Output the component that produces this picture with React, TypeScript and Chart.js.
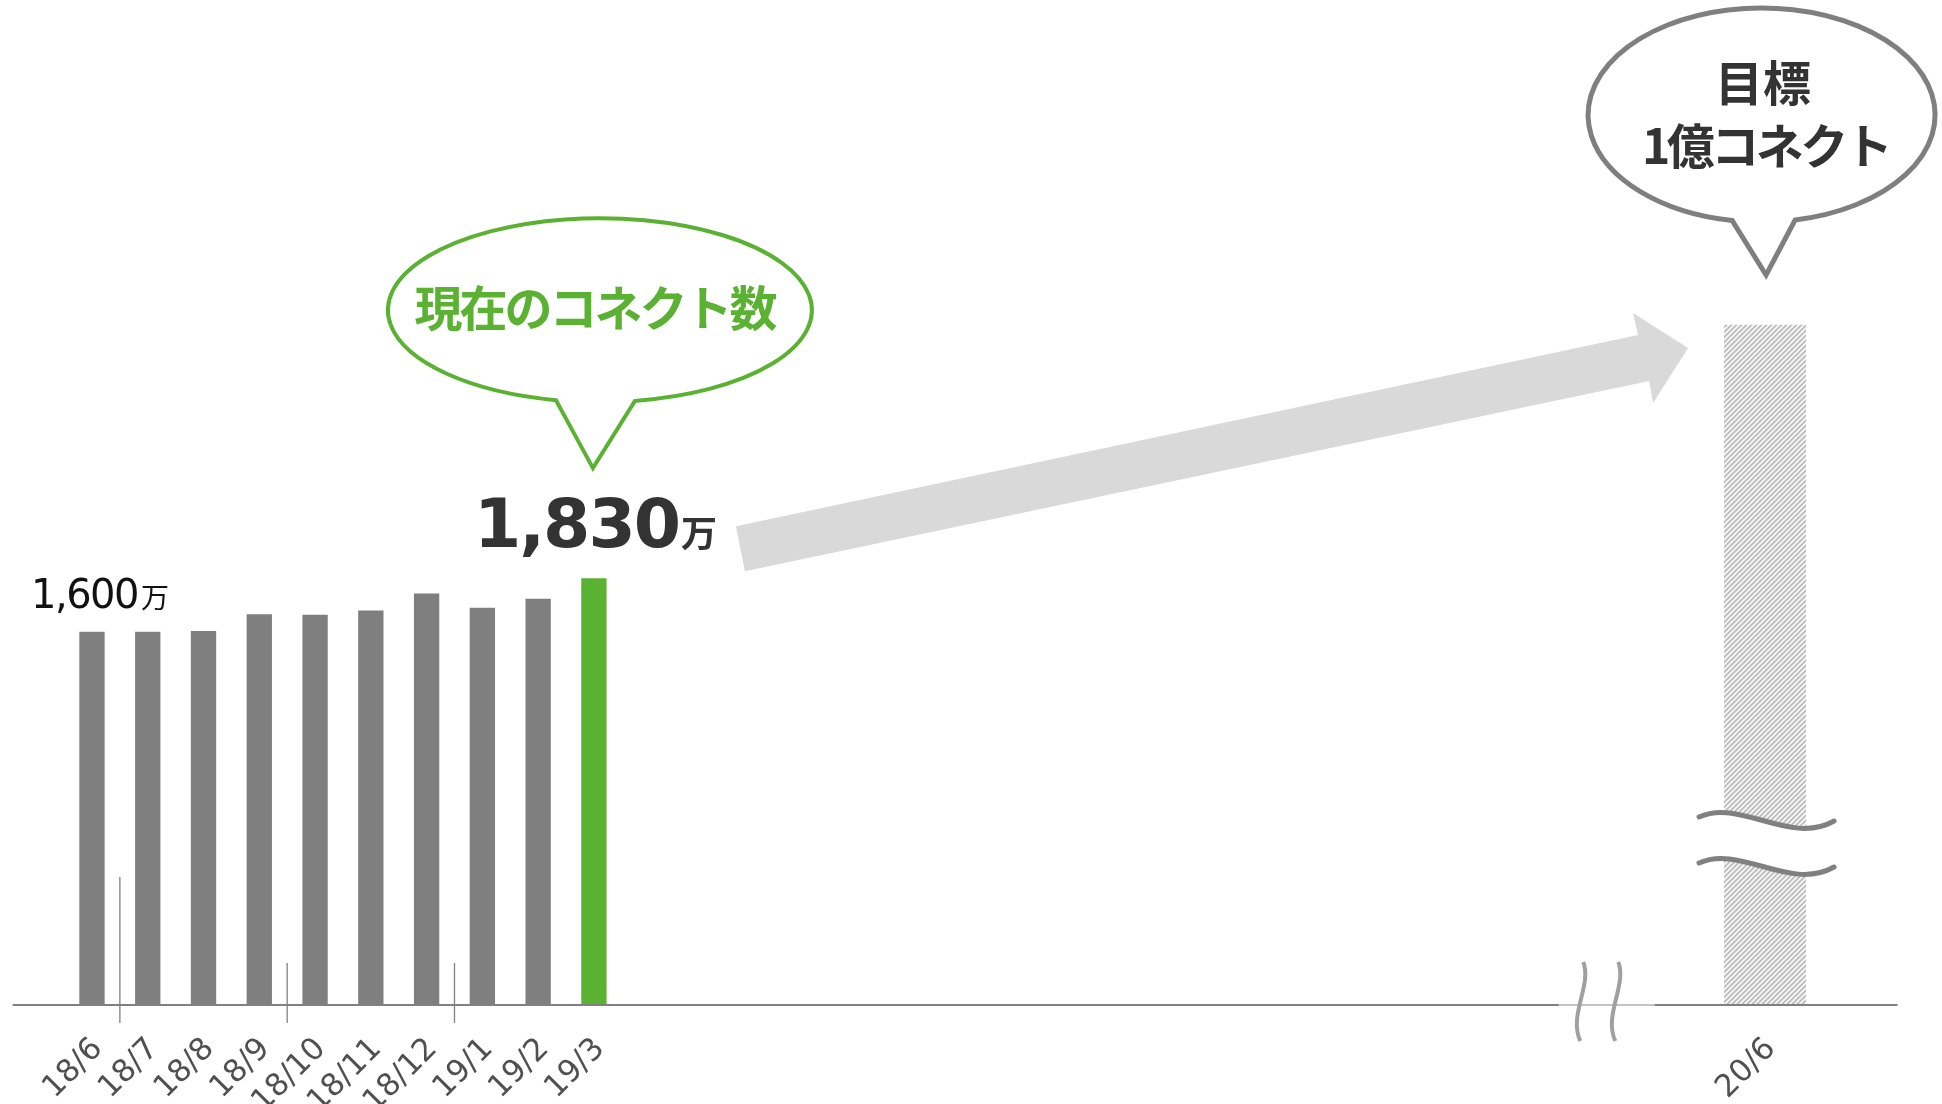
import React, { useEffect, useRef } from 'react';
import { Chart, registerables } from 'chart.js';

Chart.register(...registerables);

// ---- data ----
const months = ['18/6', '18/7', '18/8', '18/9', '18/10', '18/11', '18/12', '19/1', '19/2', '19/3'];
const connects = [1600, 1600, 1603, 1675, 1673, 1691, 1764, 1703, 1742, 1830]; // 万
const breakSlots = 20; // empty slots hidden behind the axis break
const targetMonth = '20/6';
const targetValue = 10000; // 1億 = 10000万
const tailSlots = 2;
const firstValueText = '1,600';
const currentValueText = '1,830';
const unitText = '万';
const currentCaption = '現在のコネクト数';
const targetCaption = ['目標', '1億コネクト'];
const quarterBreaks = [0, 3, 6]; // separator after these indexes

// ---- styles ----
const GRAY = '#7F7F7F';
const GREEN = '#5BB131';
const TEXT_DARK = '#333333';
const LATIN = 'DejaVu Sans';
const CJK = '"Noto Sans CJK JP"';

const labels = [
  ...months,
  ...Array(breakSlots).fill(''),
  targetMonth,
  ...Array(tailSlots).fill(''),
];
const targetIndex = months.length + breakSlots;
const monthlyData = labels.map((_, i) => (i < connects.length ? connects[i] : null));
const targetData = labels.map((_, i) => (i === targetIndex ? targetValue : null));

function makeHatch(): CanvasPattern | string {
  const c = document.createElement('canvas');
  c.width = 5;
  c.height = 5;
  const g = c.getContext('2d');
  if (!g) return '#D0D0D0';
  const img = g.createImageData(5, 5);
  const shades = [184, 196, 232, 250, 226];
  for (let y = 0; y < 5; y++) {
    for (let x = 0; x < 5; x++) {
      const k = (((x + y) % 5) + 5) % 5;
      const v = shades[k];
      const p = (y * 5 + x) * 4;
      img.data[p] = v;
      img.data[p + 1] = v;
      img.data[p + 2] = v;
      img.data[p + 3] = 255;
    }
  }
  g.putImageData(img, 0, 0);
  const pat = g.createPattern(c, 'repeat');
  return pat || '#D0D0D0';
}

function bubblePath(
  ctx: CanvasRenderingContext2D,
  cx: number, cy: number, rx: number, ry: number,
  dxL: number, dxR: number, tipX: number, tipY: number
) {
  const tL = Math.acos(dxL / rx);
  const tR = Math.acos(dxR / rx);
  ctx.beginPath();
  ctx.ellipse(cx, cy, rx, ry, 0, tR, tL, true);
  ctx.lineTo(tipX, tipY);
  ctx.closePath();
}

const decorPlugin = {
  id: 'decor',
  beforeDatasetsDraw(chart: any) {
    const ctx: CanvasRenderingContext2D = chart.ctx;
    const bars = chart.getDatasetMeta(0).data;
    const a = bars[connects.length - 1];
    const t = chart.getDatasetMeta(1).data[targetIndex];
    if (!a || !t) return;
    // big gray arrow from current value to target
    ctx.save();
    ctx.fillStyle = '#D9D9D9';
    ctx.beginPath();
    ctx.moveTo(a.x + 142, a.y - 52);
    ctx.lineTo(t.x - 127, t.y + 10.5);
    ctx.lineTo(t.x - 132, t.y - 11.5);
    ctx.lineTo(t.x - 77, t.y + 23.5);
    ctx.lineTo(t.x - 112, t.y + 78.5);
    ctx.lineTo(t.x - 116, t.y + 56.5);
    ctx.lineTo(a.x + 151, a.y - 7);
    ctx.closePath();
    ctx.fill();
    ctx.restore();
  },
  afterDatasetsDraw(chart: any) {
    const ctx: CanvasRenderingContext2D = chart.ctx;
    const area = chart.chartArea;
    const xs = chart.scales.x;
    const base = chart.scales.y.getPixelForValue(0);
    const bars = chart.getDatasetMeta(0).data;
    const b0 = bars[0];
    const a = bars[connects.length - 1];
    const t = chart.getDatasetMeta(1).data[targetIndex];
    if (!b0 || !a || !t) return;
    ctx.save();

    // baseline (x axis line)
    const xb = xs.getPixelForValue(targetIndex - 3);
    ctx.strokeStyle = '#808080';
    ctx.lineWidth = 2;
    ctx.beginPath();
    ctx.moveTo(area.left - 51.5, base + 1);
    ctx.lineTo(area.right - 7, base + 1);
    ctx.stroke();
    ctx.strokeStyle = '#C4C4C4';
    ctx.beginPath();
    ctx.moveTo(xb - 39, base + 1);
    ctx.lineTo(xb + 57, base + 1);
    ctx.stroke();

    // quarter separators
    ctx.strokeStyle = '#808080';
    ctx.lineWidth = 1.3;
    quarterBreaks.forEach((i, k) => {
      const x = (xs.getPixelForValue(i) + xs.getPixelForValue(i + 1)) / 2;
      ctx.beginPath();
      ctx.moveTo(x, base - (k === 0 ? 127 : 41));
      ctx.lineTo(x, base + 19);
      ctx.stroke();
    });

    // axis break marks
    ctx.strokeStyle = '#A0A0A0';
    ctx.lineWidth = 4;
    ctx.lineCap = 'butt';
    [0, 35].forEach((off) => {
      ctx.beginPath();
      ctx.moveTo(xb - 14.5 + off, base - 42);
      ctx.bezierCurveTo(xb - 5.5 + off, base - 19, xb - 29.5 + off, base + 11, xb - 17.5 + off, base + 37);
      ctx.stroke();
    });

    // target bar break (white gap between two waves)
    const wave = (dy: number, reverse: boolean) => {
      const p0 = [t.x - 66, base - 187 + dy];
      const c1 = [t.x - 25, base - 206 + dy];
      const c2 = [t.x + 25, base - 158 + dy];
      const p1 = [t.x + 69, base - 183 + dy];
      if (!reverse) {
        ctx.bezierCurveTo(c1[0], c1[1], c2[0], c2[1], p1[0], p1[1]);
      } else {
        ctx.bezierCurveTo(c2[0], c2[1], c1[0], c1[1], p0[0], p0[1]);
      }
    };
    ctx.fillStyle = '#FFFFFF';
    ctx.beginPath();
    ctx.moveTo(t.x - 66, base - 187);
    wave(0, false);
    ctx.lineTo(t.x + 69, base - 183 + 46);
    wave(46, true);
    ctx.closePath();
    ctx.fill();
    ctx.strokeStyle = '#808080';
    ctx.lineWidth = 5;
    ctx.lineCap = 'round';
    [0, 46].forEach((dy) => {
      ctx.beginPath();
      ctx.moveTo(t.x - 66, base - 187 + dy);
      wave(dy, false);
      ctx.stroke();
    });

    // 1,600万 label
    ctx.fillStyle = '#111111';
    ctx.textAlign = 'left';
    ctx.textBaseline = 'alphabetic';
    ctx.font = `40px ${LATIN}`;
    (ctx as any).letterSpacing = '-1.5px';
    const lx = b0.x - 61;
    const ly = b0.y - 24;
    ctx.fillText(firstValueText, lx, ly);
    const w1 = ctx.measureText(firstValueText).width;
    (ctx as any).letterSpacing = '0px';
    ctx.font = `28px ${CJK}`;
    ctx.fillText(unitText, lx + w1 + 3, ly);

    // 1,830万 label
    ctx.fillStyle = TEXT_DARK;
    ctx.font = `bold 68px ${LATIN}`;
    (ctx as any).letterSpacing = '-2px';
    const wBig = ctx.measureText(currentValueText).width;
    (ctx as any).letterSpacing = '0px';
    ctx.font = `bold 36px ${CJK}`;
    const wUnit = ctx.measureText(unitText).width;
    const total = wBig + wUnit + 2;
    const sx = a.x + 1.6 - total / 2;
    const sy = a.y - 31;
    ctx.font = `bold 68px ${LATIN}`;
    (ctx as any).letterSpacing = '-2px';
    ctx.fillText(currentValueText, sx, sy);
    (ctx as any).letterSpacing = '0px';
    ctx.font = `bold 36px ${CJK}`;
    ctx.fillText(unitText, sx + wBig + 2, sy);

    // green bubble
    const gcx = a.x + 6;
    const gcy = a.y - 268;
    bubblePath(ctx, gcx, gcy, 212, 92, -44, 35, a.x - 1, a.y - 110);
    ctx.fillStyle = '#FFFFFF';
    ctx.fill();
    ctx.strokeStyle = GREEN;
    ctx.lineWidth = 4;
    ctx.lineJoin = 'miter';
    ctx.stroke();
    ctx.fillStyle = GREEN;
    ctx.textAlign = 'center';
    ctx.textBaseline = 'middle';
    ctx.font = `bold 48px ${CJK}`;
    (ctx as any).letterSpacing = '-3px';
    ctx.fillText(currentCaption, gcx - 5.5, gcy - 2);

    // gray target bubble
    const tcx = t.x - 3.5;
    const tcy = t.y - 209.5;
    bubblePath(ctx, tcx, tcy, 173.5, 107, -29.5, 33.5, t.x + 1, t.y - 49.5);
    ctx.fillStyle = '#FFFFFF';
    ctx.fill();
    ctx.strokeStyle = '#7F7F7F';
    ctx.lineWidth = 5;
    ctx.stroke();
    ctx.fillStyle = TEXT_DARK;
    ctx.font = `bold 48px ${CJK}`;
    (ctx as any).letterSpacing = '0px';
    ctx.fillText(targetCaption[0], tcx + 1.5, tcy - 32);
    (ctx as any).letterSpacing = '-3.5px';
    ctx.fillText(targetCaption[1], tcx + 4, tcy + 31);
    (ctx as any).letterSpacing = '0px';

    ctx.restore();
  },
};

export default function App() {
  const ref = useRef<HTMLCanvasElement | null>(null);
  useEffect(() => {
    if (!ref.current) return;
    const hatch = makeHatch();
    const chart = new Chart(ref.current, {
      type: 'bar',
      data: {
        labels,
        datasets: [
          {
            label: 'コネクト数',
            data: monthlyData,
            backgroundColor: (c: any) => (c.dataIndex === connects.length - 1 ? GREEN : GRAY),
            barPercentage: 0.454,
            categoryPercentage: 1,
            grouped: false,
            yAxisID: 'y',
          } as any,
          {
            label: '目標',
            data: targetData,
            backgroundColor: hatch as any,
            barPercentage: 1.47,
            categoryPercentage: 1,
            grouped: false,
            yAxisID: 'y2',
          } as any,
        ],
      },
      options: {
        animation: false,
        responsive: true,
        maintainAspectRatio: false,
        layout: { padding: { top: 324.5, left: 64.1, right: 37.5, bottom: 0 } },
        plugins: { legend: { display: false }, tooltip: { enabled: false } },
        scales: {
          x: {
            grid: { display: false, drawTicks: false },
            border: { display: false },
            ticks: {
              autoSkip: false,
              maxRotation: 45,
              minRotation: 45,
              padding: 27,
              labelOffset: 6,
              color: '#505050',
              font: { family: 'DejaVu Sans', size: 31 },
            },
            afterFit: (s: any) => {
              s.height = 100;
            },
          },
          y: { display: false, min: 0, max: 2920 },
          y2: { display: false, min: 0, max: targetValue },
        },
      } as any,
      plugins: [decorPlugin],
    });
    return () => chart.destroy();
  }, []);
  return (
    <div style={{ position: 'fixed', left: 0, top: 0, width: '1942px', height: '1104px', background: '#FFFFFF' }}>
      <canvas ref={ref} />
    </div>
  );
}
